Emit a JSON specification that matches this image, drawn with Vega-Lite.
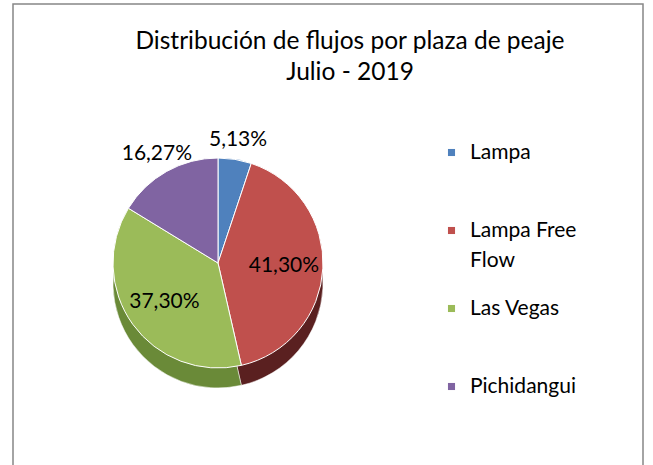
{
  "$schema": "https://vega.github.io/schema/vega-lite/v6.json",
  "width": 653,
  "height": 465,
  "autosize": {"type": "fit", "contains": "padding"},
  "padding": {"left": 12, "top": 3, "right": 9, "bottom": -6},
  "background": "white",
  "config": {
    "view": {"stroke": null},
    "font": "Lato",
    "style": {"guide-label": {"lineHeight": 30}}
  },
  "title": {
    "text": ["Distribución de flujos por plaza de peaje", "Julio - 2019"],
    "fontSize": 24.5,
    "fontWeight": "normal",
    "font": "Lato",
    "color": "#000000",
    "anchor": "middle",
    "offset": -82,
    "dx": 22,
    "lineHeight": 31
  },
  "data": {
    "values": [
      {"plaza": "Lampa", "pct": 5.13},
      {"plaza": "Lampa Free Flow", "pct": 41.30},
      {"plaza": "Las Vegas", "pct": 37.30},
      {"plaza": "Pichidangui", "pct": 16.27}
    ]
  },
  "transform": [
    {"calculate": "replace(format(datum.pct, '.2f'), '.', ',') + '%'", "as": "lab"}
  ],
  "layer": [
    {
      "data": {"values": [{"frame": 1}]},
      "mark": {"type": "rect", "fill": null, "stroke": "#878787", "strokeWidth": 1.5},
      "encoding": {
        "x": {"value": 0},
        "x2": {"value": "width"},
        "y": {"value": 0},
        "y2": {"value": "height"}
      }
    },
    {
      "mark": {"type": "arc", "outerRadius": 105, "x": 205, "y": 259, "yOffset": 20, "stroke": "#ffffff", "strokeWidth": 0.5},
      "encoding": {
        "theta": {"field": "pct", "type": "quantitative", "stack": true},
        "order": {"field": "plaza", "type": "ordinal"},
        "color": {
          "field": "plaza",
          "type": "nominal",
          "scale": {"domain": ["Lampa", "Lampa Free Flow", "Las Vegas", "Pichidangui"], "range": ["#34557f", "#5a2020", "#6a8a38", "#56426f"]},
          "legend": null
        }
      }
    },
    {
      "mark": {"type": "arc", "outerRadius": 105, "x": 205, "y": 259, "stroke": "#ffffff", "strokeWidth": 1},
      "encoding": {
        "theta": {"field": "pct", "type": "quantitative", "stack": true},
        "order": {"field": "plaza", "type": "ordinal"},
        "color": {
          "field": "plaza",
          "type": "nominal",
          "scale": {"domain": ["Lampa", "Lampa Free Flow", "Las Vegas", "Pichidangui"], "range": ["#4F81BD", "#C0504D", "#9BBB59", "#8064A2"]},
          "legend": {
            "orient": "none",
            "legendX": 428,
            "legendY": 138,
            "title": null,
            "symbolType": "square",
            "symbolSize": 50,
            "symbolStrokeWidth": 0,
            "labelFontSize": 21,
            "labelFont": "Lato",
            "labelColor": "#000000",
            "rowPadding": 26,
            "gridAlign": "all",
            "labelOffset": 8,
            "labelLimit": 0,
            "labelExpr": "datum.label == 'Lampa Free Flow' ? ['Lampa Free', 'Flow'] : datum.label"
          }
        }
      }
    },
    {
      "mark": {"type": "text", "radius": 66, "x": 205, "y": 259, "fontSize": 21, "font": "Lato", "color": "#000000"},
      "encoding": {
        "theta": {"field": "pct", "type": "quantitative", "stack": true},
        "order": {"field": "plaza", "type": "ordinal"},
        "text": {"condition": {"test": "datum.pct > 30", "field": "lab"}, "value": ""}
      }
    },
    {
      "mark": {"type": "text", "radius": 125, "x": 205, "y": 259, "fontSize": 21, "font": "Lato", "color": "#000000"},
      "encoding": {
        "theta": {"field": "pct", "type": "quantitative", "stack": true},
        "order": {"field": "plaza", "type": "ordinal"},
        "text": {"condition": {"test": "datum.pct <= 30", "field": "lab"}, "value": ""}
      }
    }
  ],
  "resolve": {"scale": {"color": "independent"}}
}
